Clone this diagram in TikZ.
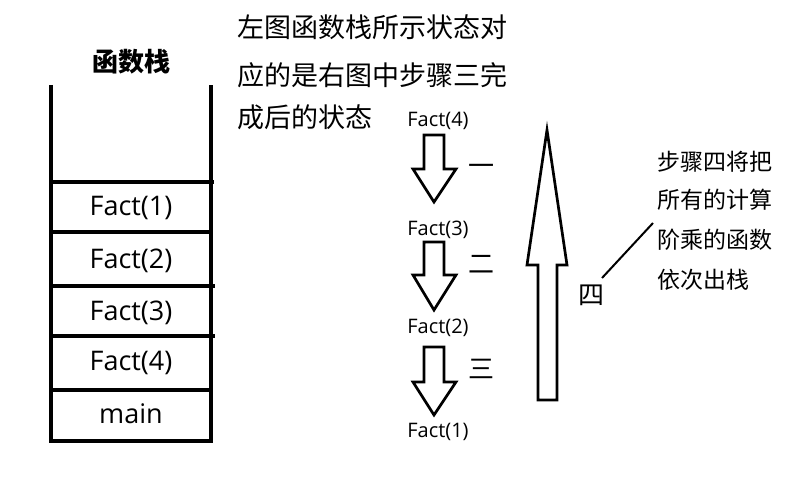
\documentclass[tikz,border=0pt]{standalone}
\usepackage{fontspec}
\setmainfont{Open Sans}
\newfontfamily\zh{Noto Sans CJK SC}
\usetikzlibrary{positioning}

\begin{document}
\begin{tikzpicture}[
  x=1pt, y=-1pt,
  wall/.style={line width=3.2pt},
  frame/.style={anchor=base, inner sep=0pt, font=\fontsize{27}{30}\selectfont},
  call/.style={anchor=base, inner sep=0pt, font=\fontsize{20}{22}\selectfont},
  note/.style={anchor=west, inner sep=0pt, font=\zh\fontsize{27}{30}\selectfont},
  side/.style={anchor=west, inner sep=0pt, font=\zh\fontsize{23}{26}\selectfont},
  steplbl/.style={inner sep=0pt, font=\zh\fontsize{26}{28}\selectfont},
  blockarrow/.style={draw, line width=2.7pt, line join=miter}
]
\useasboundingbox (0,0) rectangle (795,500);

% function stack
\node[inner sep=0pt, font=\zh\bfseries\fontsize{26}{28}\selectfont] (title) at (131,62) {函数栈};
\draw[wall] (51,85) -- (51,441) -- (211,441) -- (211,85);
\foreach \y/\xr in {182/214, 232/211, 286/215, 336/215, 390/211}
  \draw[wall] (51,\y) -- (\xr,\y);
\node[frame] (s1) at (131,215) {Fact(1)};
\node[frame] (s2) at (131,268) {Fact(2)};
\node[frame] (s3) at (131,320) {Fact(3)};
\node[frame] (s4) at (131,370) {Fact(4)};
\node[frame] (sm) at (131,423) {main};

% remark
\node[note] (n1) at (237,27) {左图函数栈所示状态对};
\node[note] (n2) at (237,75) {应的是右图中步骤三完};
\node[note] (n3) at (237,117) {成后的状态};

% calls going down
\node[call] (c4) at (438,127) {Fact(4)};
\node[call] (c3) at (438,235) {Fact(3)};
\node[call] (c2) at (438,333) {Fact(2)};
\node[call] (c1) at (438,437) {Fact(1)};
\foreach \t/\b/\p in {135/169/202, 242/275/310, 347/382/415}
  \draw[blockarrow] (424,\t) -- (444,\t) -- (444,\b) -- (456,\b) -- (434,\p)
    -- (413,\b) -- (424,\b) -- cycle;
\node[steplbl] (k1) at (481,170) {一};
\node[steplbl] (k2) at (481,264) {二};
\node[steplbl] (k3) at (481,369) {三};

% returns going up
\draw[blockarrow] (538,400) -- (557,400) -- (557,265) -- (567,265) -- (547,130)
  -- (527,265) -- (538,265) -- cycle;
\node[steplbl] (k4) at (591,295) {四};
\node[side] (r1) at (657,162) {步骤四将把};
\node[side] (r2) at (657,200) {所有的计算};
\node[side] (r3) at (657,240) {阶乘的函数};
\node[side] (r4) at (657,280) {依次出栈};
\coordinate (leadA) at (602,278);
\coordinate (leadB) at (653,223);
\draw[line width=2pt] (leadA) -- (leadB);
\end{tikzpicture}
\end{document}
